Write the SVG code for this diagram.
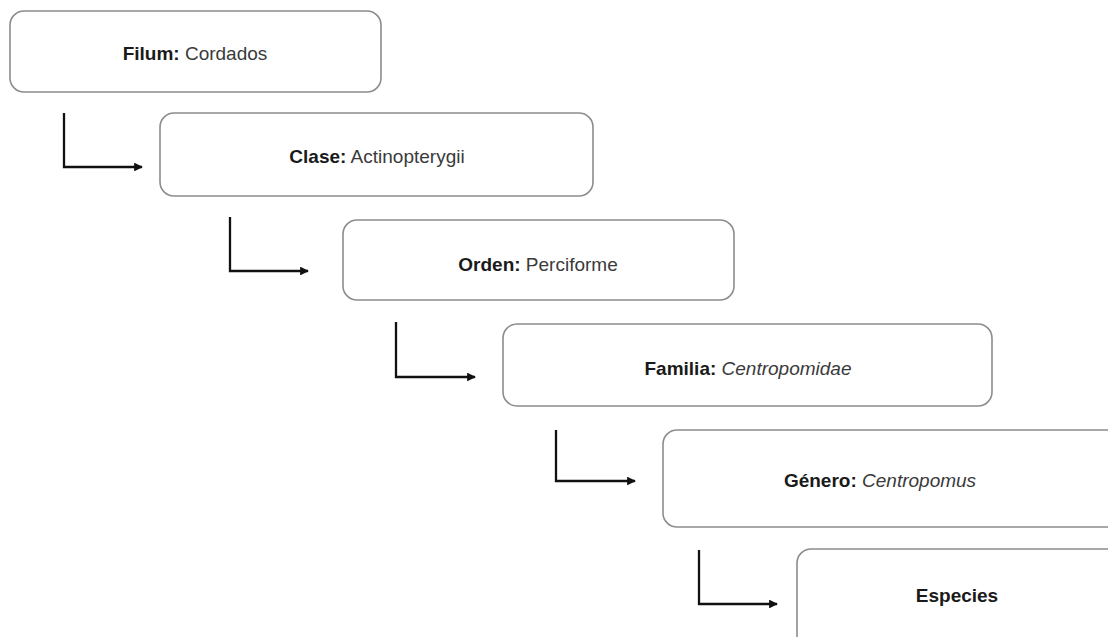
<svg xmlns="http://www.w3.org/2000/svg" width="1108" height="637" viewBox="0 0 1108 637">
<style>
.box{fill:#fff;stroke:#8c8c8c;stroke-width:1.6}
.t{font-family:"Liberation Sans",Arial,sans-serif;font-size:19px;text-anchor:middle;dominant-baseline:central;fill:#3a3a3a}
.b{font-weight:bold;fill:#1a1a1a}
.i{font-style:italic}
.c{fill:none;stroke:#111;stroke-width:2.3;marker-end:url(#ah)}
</style>
<defs>
<marker id="ah" viewBox="0 0 10 10" refX="9" refY="5" markerWidth="3.8" markerHeight="3.8" orient="auto" markerUnits="strokeWidth">
<path d="M0,0 L10,5 L0,10 z" fill="#111"/>
</marker>
</defs>
<rect width="1108" height="637" fill="#fff"/>
<g id="connectors">
<path class="c" d="M64,113 V167 H142"/>
<path class="c" d="M230,217 V271 H308"/>
<path class="c" d="M396,322 V377 H475"/>
<path class="c" d="M556,430 V481 H635"/>
<path class="c" d="M699,550 V604 H777"/>
</g>
<g id="filum">
<rect class="box" x="10" y="11" width="371" height="81" rx="14"/>
<text class="t" x="195" y="53"><tspan class="b">Filum:</tspan> Cordados</text>
</g>
<g id="clase">
<rect class="box" x="160" y="113" width="433" height="83" rx="14"/>
<text class="t" x="377" y="156"><tspan class="b">Clase:</tspan> Actinopterygii</text>
</g>
<g id="orden">
<rect class="box" x="343" y="220" width="391" height="80" rx="14"/>
<text class="t" x="538" y="264"><tspan class="b">Orden:</tspan> Perciforme</text>
</g>
<g id="familia">
<rect class="box" x="503" y="324" width="489" height="82" rx="14"/>
<text class="t" x="748" y="368"><tspan class="b">Familia:</tspan> <tspan class="i">Centropomidae</tspan></text>
</g>
<g id="genero">
<rect class="box" x="663" y="430" width="460" height="97" rx="14"/>
<text class="t" x="880" y="480"><tspan class="b">Género:</tspan> <tspan class="i">Centropomus</tspan></text>
</g>
<g id="especies">
<rect class="box" x="797" y="549" width="330" height="110" rx="14"/>
<text class="t b" x="957" y="595">Especies</text>
</g>
</svg>
